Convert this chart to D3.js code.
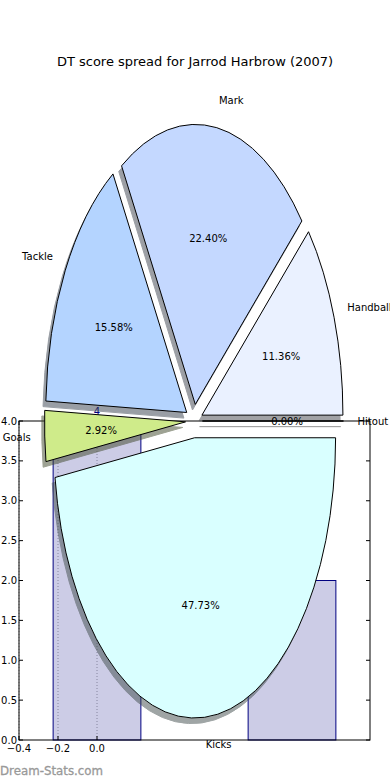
<!DOCTYPE html>
<html>
<head>
<meta charset="utf-8">
<script src="https://cdn.jsdelivr.net/npm/d3@7"></script>
<style>
  body { margin: 0; background: #fff; }
  svg { display: block; font-family: "DejaVu Sans", sans-serif; }
</style>
</head>
<body>
<script>
// pie data, in matplotlib order (counter-clockwise from 3 o'clock)
const sliceLabels = ['Handball', 'Mark', 'Tackle', 'Goals', 'Kicks', 'Hitout'];
const slicePercents = [11.36, 22.40, 15.58, 2.92, 47.73, 0.00];
const sliceColors = ['#eaf1ff', '#c4d8ff', '#b4d4ff', '#cfeb8a', '#d9ffff', '#f0f0f0'];

// bar data behind the pie
const barPositions = [0, 1];
const barValues = [4, 2];
const xTicks = [-0.4, -0.2, 0.0];
const yTicks = [0, 0.5, 1, 1.5, 2, 2.5, 3, 3.5, 4];

const title = 'DT score spread for Jarrod Harbrow (2007)';

const width = 390, height = 780;
const svg = d3.select('body').append('svg')
  .attr('width', width)
  .attr('height', height);

// Bar axes
const x = d3.scaleLinear().domain([-0.4, 1.4]).range([19, 370]);
const y = d3.scaleLinear().domain([0, 4]).range([740, 421]);
const barWidth = 0.45;
const navy = '#000080';

const axes = svg.append('g');

// dotted grid at the x ticks
axes.selectAll('line.grid')
  .data(xTicks)
  .enter()
  .append('line')
  .attr('x1', d => x(d)).attr('x2', d => x(d))
  .attr('y1', y(0)).attr('y2', y(4))
  .attr('stroke', '#a8a8a8')
  .attr('stroke-dasharray', '1,2');

axes.selectAll('rect.bar')
  .data(barValues)
  .enter()
  .append('rect')
  .attr('x', (d, i) => x(barPositions[i] - barWidth / 2))
  .attr('width', (d, i) => x(barPositions[i] + barWidth / 2) - x(barPositions[i] - barWidth / 2))
  .attr('y', d => y(d))
  .attr('height', d => y(0) - y(d))
  .attr('fill', navy)
  .attr('fill-opacity', 0.2)
  .attr('stroke', navy)
  .attr('stroke-width', 1);

axes.selectAll('text.barval')
  .data(barValues)
  .enter()
  .append('text')
  .attr('x', (d, i) => x(barPositions[i]))
  .attr('y', d => y(d) - 6)
  .attr('text-anchor', 'middle')
  .attr('fill', navy)
  .attr('font-size', 10)
  .text(d => d);

// frame
axes.append('rect')
  .attr('x', x(-0.4)).attr('y', y(4))
  .attr('width', x(1.4) - x(-0.4)).attr('height', y(0) - y(4))
  .attr('fill', 'none')
  .attr('stroke', '#000');

// inward ticks
const tl = 4;
yTicks.forEach(t => {
  axes.append('line').attr('x1', x(-0.4)).attr('x2', x(-0.4) + tl)
    .attr('y1', y(t)).attr('y2', y(t)).attr('stroke', '#000');
  axes.append('line').attr('x1', x(1.4)).attr('x2', x(1.4) - tl)
    .attr('y1', y(t)).attr('y2', y(t)).attr('stroke', '#000');
});
xTicks.forEach(t => {
  axes.append('line').attr('x1', x(t)).attr('x2', x(t))
    .attr('y1', y(0)).attr('y2', y(0) - tl).attr('stroke', '#000');
  axes.append('line').attr('x1', x(t)).attr('x2', x(t))
    .attr('y1', y(4)).attr('y2', y(4) + tl).attr('stroke', '#000');
});

const fmtTick = d => d3.format('.1f')(d).replace('-', '\u2212');

axes.selectAll('text.ytick')
  .data(yTicks)
  .enter()
  .append('text')
  .attr('x', x(-0.4) - 2)
  .attr('y', d => y(d))
  .attr('dy', '0.35em')
  .attr('text-anchor', 'end')
  .attr('font-size', 10)
  .text(fmtTick);

axes.selectAll('text.xtick')
  .data(xTicks)
  .enter()
  .append('text')
  .attr('x', d => x(d))
  .attr('y', y(0) + 12)
  .attr('text-anchor', 'middle')
  .attr('font-size', 10)
  .text(fmtTick);

// Pie (elliptical, exploded, with shadows)
const cx = 194, cy = 421, rx = 141, ry = 280;
const explode = 0.06;
const shadowOff = 0.02;

const pie = d3.pie()
  .sort(null)
  .startAngle(Math.PI / 2)
  .endAngle(Math.PI / 2 - 2 * Math.PI)
  .value(d => d);
const arcs = pie(slicePercents);
const total = d3.sum(slicePercents);
const arc = d3.arc().innerRadius(0).outerRadius(1);

// unit direction of the middle of each wedge (screen coords)
const mid = a => {
  const m = (a.startAngle + a.endAngle) / 2;
  return [Math.sin(m), -Math.cos(m)];
};
const at = (a, k) => {
  const [ux, uy] = mid(a);
  return [cx + k * rx * ux, cy + k * ry * uy];
};
const dark = c => {
  const rgb = d3.rgb(c);
  return d3.rgb(rgb.r * 0.3, rgb.g * 0.3, rgb.b * 0.3).toString();
};

const pieG = svg.append('g');

pieG.selectAll('path.shadow')
  .data(arcs)
  .enter()
  .append('path')
  .attr('d', arc)
  .attr('transform', d => {
    const [px, py] = at(d, explode);
    return `translate(${px - shadowOff * rx},${py + shadowOff * ry}) scale(${rx},${ry})`;
  })
  .attr('fill', (d, i) => dark(sliceColors[i]))
  .attr('stroke', (d, i) => dark(sliceColors[i]))
  .attr('opacity', 0.5)
  .attr('vector-effect', 'non-scaling-stroke')
  .attr('stroke-width', 1);

pieG.selectAll('path.wedge')
  .data(arcs)
  .enter()
  .append('path')
  .attr('d', arc)
  .attr('transform', d => {
    const [px, py] = at(d, explode);
    return `translate(${px},${py}) scale(${rx},${ry})`;
  })
  .attr('fill', (d, i) => sliceColors[i])
  .attr('stroke', '#000')
  .attr('stroke-width', 1)
  .attr('vector-effect', 'non-scaling-stroke');

pieG.selectAll('text.label')
  .data(arcs)
  .enter()
  .append('text')
  .attr('x', d => at(d, explode + 1.1)[0])
  .attr('y', d => at(d, explode + 1.1)[1])
  .attr('dy', '0.35em')
  .attr('text-anchor', d => mid(d)[0] > 0 ? 'start' : 'end')
  .attr('font-size', 10)
  .text((d, i) => sliceLabels[i]);

pieG.selectAll('text.pct')
  .data(arcs)
  .enter()
  .append('text')
  .attr('x', d => at(d, explode + 0.6)[0])
  .attr('y', d => at(d, explode + 0.6)[1])
  .attr('dy', '0.35em')
  .attr('text-anchor', 'middle')
  .attr('font-size', 10)
  .text(d => d3.format('.2f')(d.value / total * 100) + '%');

svg.append('text')
  .attr('x', 195)
  .attr('y', 65.5)
  .attr('text-anchor', 'middle')
  .attr('font-size', 13)
  .text(title);

// watermark
svg.append('text')
  .attr('x', 0)
  .attr('y', 774.5)
  .attr('font-size', 11.8)
  .attr('fill', '#999')
  .attr('stroke', '#999')
  .attr('stroke-width', 0.3)
  .text('Dream-Stats.com');
</script>
</body>
</html>
